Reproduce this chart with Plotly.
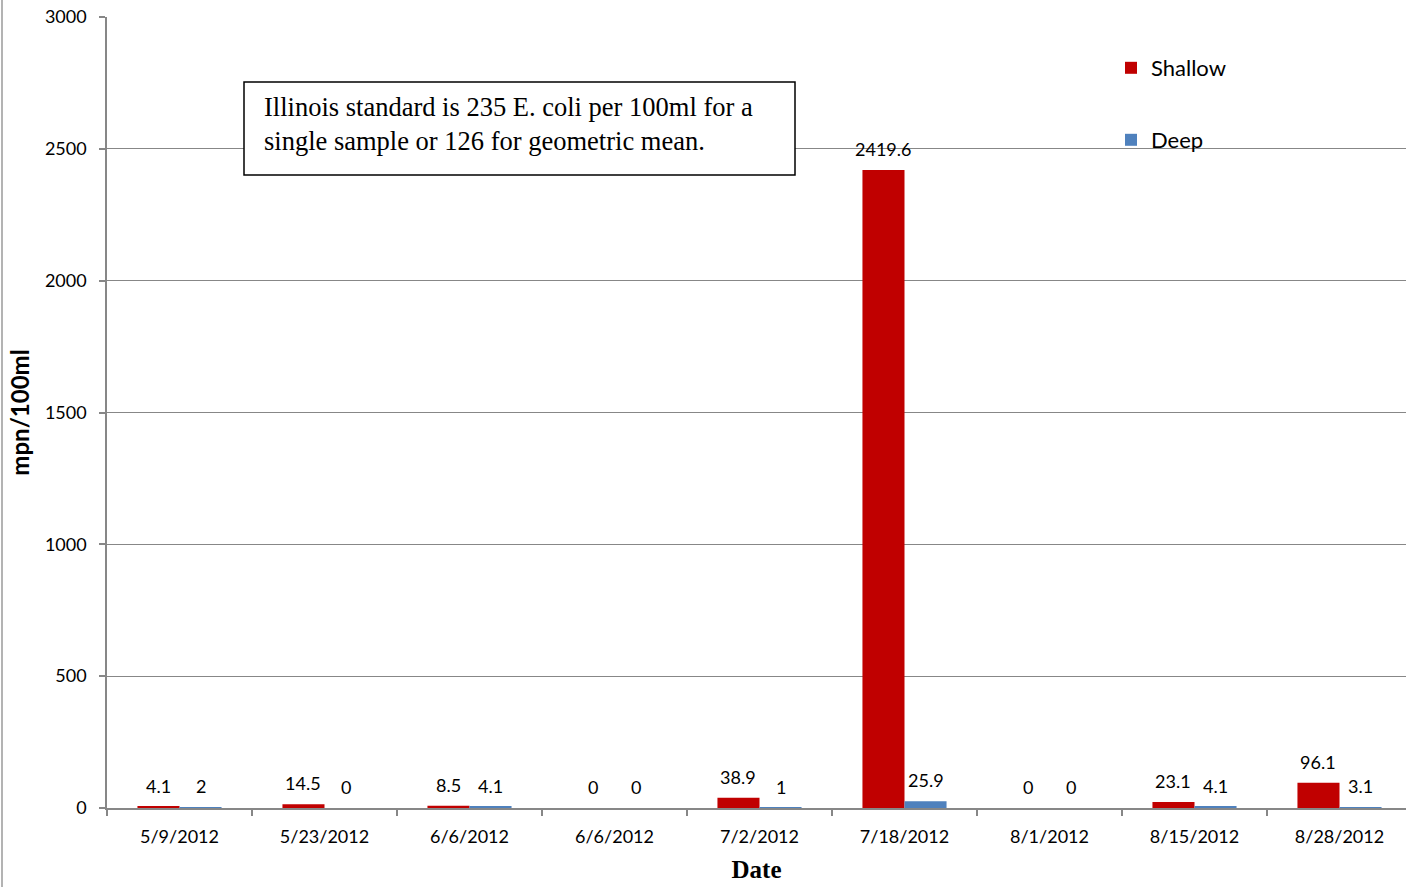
import plotly.graph_objects as go

# Sampling dates (the 6/6 date was sampled twice)
dates = ["5/9/2012", "5/23/2012", "6/6/2012", "6/6/2012", "7/2/2012",
         "7/18/2012", "8/1/2012", "8/15/2012", "8/28/2012"]
shallow = [4.1, 14.5, 8.5, 0, 38.9, 2419.6, 0, 23.1, 96.1]
deep = [2, 0, 4.1, 0, 1, 25.9, 0, 4.1, 3.1]
y_ticks = [0, 500, 1000, 1500, 2000, 2500, 3000]

SHALLOW_COLOR = "#C00000"
DEEP_COLOR = "#4F81BD"
GRID = "#878787"
SANS = "Lato"
SERIF = "Liberation Serif"

W, H = 1406, 887
L, R, T, B = 107, 0, 17, 79
plot_w = W - L - R
plot_h = H - T - B
cat_px = 145  # width of one date category in pixels

pos = list(range(len(dates)))
bargap = 0.42
half = (1 - bargap) / 4  # centre offset of each bar within a group

fig = go.Figure()
fig.add_trace(go.Bar(x=pos, y=shallow, name="Shallow", marker_color=SHALLOW_COLOR,
                     marker_line_width=0, legend="legend", showlegend=True))
fig.add_trace(go.Bar(x=pos, y=deep, name="Deep", marker_color=DEEP_COLOR,
                     marker_line_width=0, legend="legend2", showlegend=True))

# Value labels above each bar
for i in pos:
    for off, v in ((-half, shallow[i]), (half, deep[i])):
        fig.add_annotation(x=i + off, y=v, xref="x", yref="y", text=f"{v:g}",
                           showarrow=False, yanchor="middle", yshift=21,
                           font=dict(family=SANS, size=18, color="#000000"))

# Note box
bx0, bx1, by0, by1 = 244, 795, 82, 175
fig.add_shape(type="rect", xref="paper", yref="paper",
              x0=(bx0 - L) / plot_w, x1=(bx1 - L) / plot_w,
              y0=1 - (by0 - T) / plot_h, y1=1 - (by1 - T) / plot_h,
              line=dict(color="#000000", width=1.5), fillcolor="#FFFFFF", layer="above")
fig.add_annotation(xref="paper", yref="paper",
                   x=(262 - L) / plot_w, y=1 - (124 - T) / plot_h,
                   xanchor="left", yanchor="middle", align="left", showarrow=False,
                   text="Illinois standard is 235 E. coli per 100ml for a<br>"
                        "single sample or 126 for geometric mean.",
                   font=dict(family=SERIF, size=26.5, color="#000000"))

# Outer chart border on the left
fig.add_shape(type="line", xref="paper", yref="paper",
              x0=(2 - L) / plot_w, x1=(2 - L) / plot_w, y0=-0.2, y1=1.1,
              line=dict(color="#9A9A9A", width=1.5))

legend_common = dict(font=dict(family=SANS, size=22, color="#000000"),
                     bgcolor="rgba(0,0,0,0)", xanchor="left", yanchor="middle",
                     itemwidth=30)
fig.update_layout(
    width=W, height=H,
    margin=dict(l=L, r=R, t=T, b=B),
    paper_bgcolor="#FFFFFF", plot_bgcolor="#FFFFFF",
    showlegend=True,
    barmode="group", bargap=bargap, bargroupgap=0,
    legend=dict(x=(1111 - L) / plot_w, y=1 - (68 - T) / plot_h, **legend_common),
    legend2=dict(x=(1111 - L) / plot_w, y=1 - (140 - T) / plot_h, **legend_common),
    xaxis=dict(
        range=[-0.5, plot_w / cat_px - 0.5],
        tickmode="array", tickvals=pos, ticktext=dates, ticks="",
        tickfont=dict(family=SANS, size=18, color="#000000"),
        ticklabelstandoff=12,
        showline=True, linecolor=GRID, linewidth=1.5, showgrid=False, zeroline=False,
        minor=dict(tickmode="linear", tick0=-0.5, dtick=1, ticks="outside",
                   ticklen=6, tickcolor=GRID, tickwidth=1.5, showgrid=False),
        title=dict(text="<b>Date</b>", font=dict(family=SERIF, size=25, color="#000000"),
                   standoff=14),
    ),
    yaxis=dict(
        range=[0, 3000], tickmode="array", tickvals=y_ticks,
        ticks="outside", ticklen=6, tickcolor=GRID, tickwidth=1.5,
        tickfont=dict(family=SANS, size=18, color="#000000"),
        ticklabelstandoff=9,
        showline=True, linecolor=GRID, linewidth=1.5,
        showgrid=True, gridcolor=GRID, gridwidth=1.2, zeroline=False,
        title=dict(text="<b>mpn/100ml</b>", font=dict(family=SANS, size=24, color="#000000"),
                   standoff=8),
    ),
)

fig.write_html("out.html")
